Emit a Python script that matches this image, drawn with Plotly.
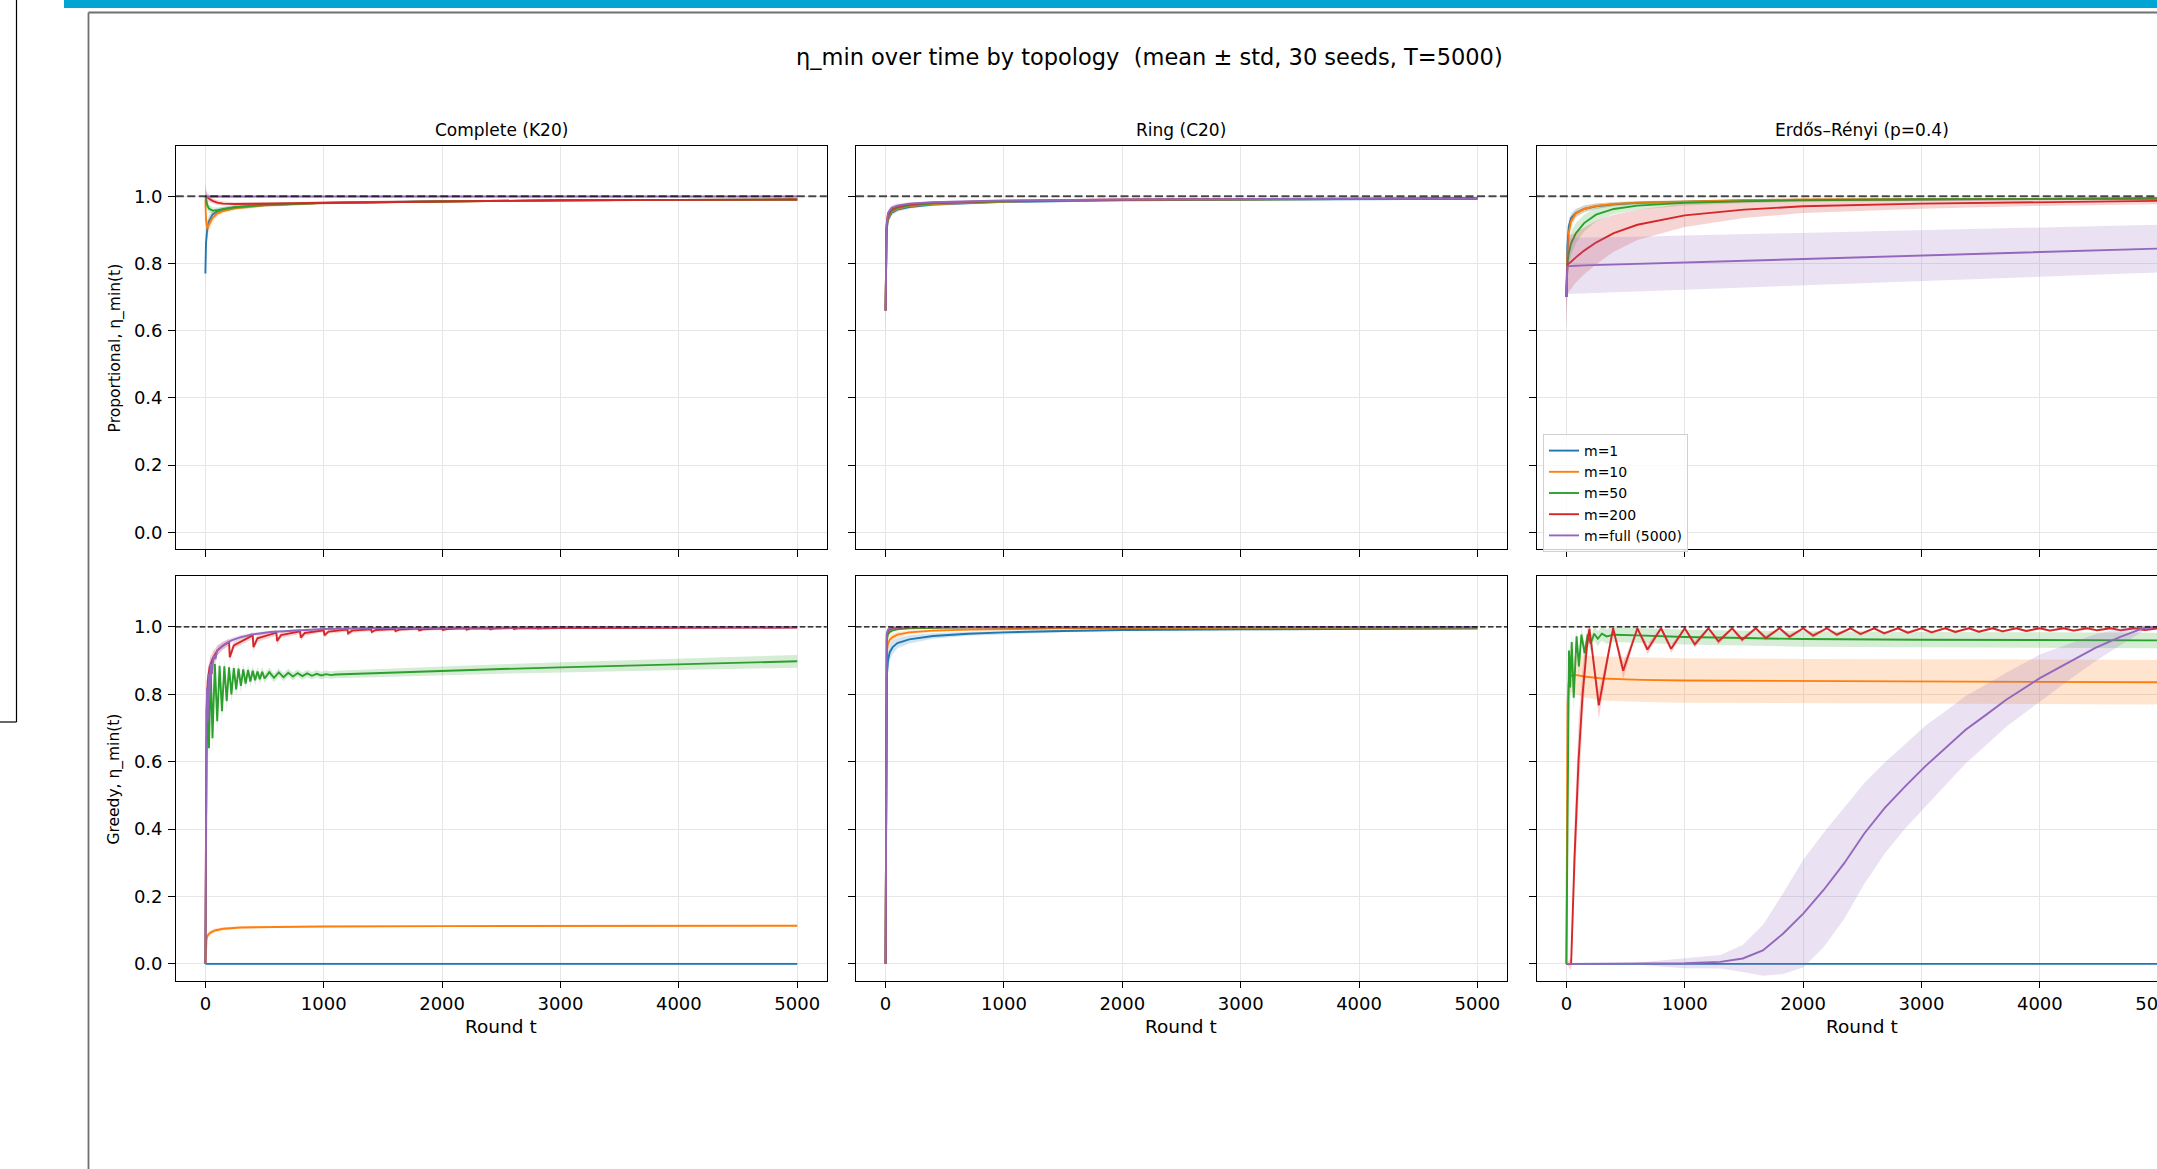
import plotly.graph_objects as go

# ---------------- labels / categories ----------------
m_labels = ["m=1", "m=10", "m=50", "m=200", "m=full (5000)"]
colors = ["#1f77b4", "#ff7f0e", "#2ca02c", "#d62728", "#9467bd"]
fills = ["rgba(31,119,180,0.2)", "rgba(255,127,14,0.2)", "rgba(44,160,44,0.2)",
         "rgba(214,39,40,0.2)", "rgba(148,103,189,0.2)"]
topologies = ["Complete (K20)", "Ring (C20)", "Erdős–Rényi (p=0.4)"]
rules = ["Proportional, η_min(t)", "Greedy, η_min(t)"]
x_ticks = [0, 1000, 2000, 3000, 4000, 5000]
y_ticks = [0.0, 0.2, 0.4, 0.6, 0.8, 1.0]
y_ticklabels = ["0.0", "0.2", "0.4", "0.6", "0.8", "1.0"]
title_text = "η_min over time by topology  (mean ± std, 30 seeds, T=5000)"

# ---------------- Proportional / Complete ----------------
t_cp = [0, 5, 15, 30, 60, 100, 150, 250, 500, 1000, 2000, 3000, 4000, 5000]
cp_m1_mean = [0.77, 0.86, 0.90, 0.925, 0.945, 0.955, 0.961, 0.967, 0.974, 0.980, 0.985, 0.988, 0.989, 0.990]
cp_m1_std = [0.05, 0.035, 0.025, 0.018, 0.012, 0.009, 0.007, 0.006, 0.005, 0.004, 0.003, 0.002, 0.002, 0.002]
cp_m10_mean = [0.99, 0.93, 0.905, 0.915, 0.935, 0.948, 0.956, 0.964, 0.973, 0.980, 0.985, 0.988, 0.989, 0.990]
cp_m10_std = [0.03, 0.03, 0.025, 0.018, 0.012, 0.009, 0.007, 0.006, 0.005, 0.004, 0.003, 0.002, 0.002, 0.002]
cp_m50_mean = [1.0, 0.99, 0.975, 0.963, 0.957, 0.958, 0.962, 0.967, 0.974, 0.980, 0.985, 0.988, 0.989, 0.990]
cp_m50_std = [0.03, 0.02, 0.015, 0.012, 0.010, 0.008, 0.007, 0.006, 0.005, 0.004, 0.003, 0.002, 0.002, 0.002]
cp_m200_mean = [1.0, 0.999, 0.996, 0.992, 0.986, 0.981, 0.978, 0.977, 0.978, 0.982, 0.986, 0.988, 0.989, 0.990]
cp_m200_std = [0.04, 0.02, 0.012, 0.010, 0.008, 0.007, 0.006, 0.005, 0.004, 0.003, 0.003, 0.002, 0.002, 0.002]
cp_mfull_mean = [1.0, 0.999, 0.999, 0.999, 0.999, 0.999, 0.999, 0.999, 0.999, 0.999, 0.999, 0.999, 0.999, 0.999]
cp_mfull_std = [0.045, 0.02, 0.01, 0.006, 0.004, 0.003, 0.002, 0.002, 0.001, 0.001, 0.001, 0.001, 0.001, 0.001]

# ---------------- Proportional / Ring ----------------
t_rp = [0, 3, 8, 20, 50, 100, 200, 400, 1000, 2000, 3000, 4000, 5000]
rp_m1_mean = [0.66, 0.82, 0.895, 0.93, 0.95, 0.96, 0.968, 0.975, 0.983, 0.988, 0.990, 0.991, 0.992]
rp_m10_mean = [0.66, 0.825, 0.90, 0.935, 0.954, 0.963, 0.971, 0.977, 0.984, 0.989, 0.991, 0.992, 0.993]
rp_m50_mean = [0.66, 0.83, 0.905, 0.94, 0.958, 0.966, 0.973, 0.979, 0.985, 0.989, 0.991, 0.992, 0.993]
rp_m200_mean = [0.66, 0.835, 0.91, 0.945, 0.962, 0.969, 0.976, 0.981, 0.986, 0.990, 0.992, 0.993, 0.994]
rp_mfull_mean = [0.66, 0.84, 0.915, 0.95, 0.965, 0.972, 0.978, 0.982, 0.987, 0.990, 0.992, 0.993, 0.994]
rp_m1_std = [0.08, 0.04, 0.02, 0.012, 0.008, 0.006, 0.005, 0.004, 0.003, 0.002, 0.002, 0.002, 0.002]
rp_m10_std = [0.08, 0.04, 0.02, 0.012, 0.008, 0.006, 0.005, 0.004, 0.003, 0.002, 0.002, 0.002, 0.002]
rp_m50_std = [0.08, 0.04, 0.02, 0.011, 0.008, 0.006, 0.005, 0.004, 0.003, 0.002, 0.002, 0.002, 0.002]
rp_m200_std = [0.08, 0.04, 0.02, 0.011, 0.008, 0.006, 0.004, 0.004, 0.003, 0.002, 0.002, 0.002, 0.002]
rp_mfull_std = [0.08, 0.04, 0.02, 0.010, 0.007, 0.006, 0.004, 0.003, 0.003, 0.002, 0.002, 0.002, 0.002]

# ---------------- Proportional / Erdos-Renyi ----------------
t_ep = [0, 8, 20, 40, 80, 150, 250, 400, 600, 1000, 1500, 2000, 3000, 4000, 5000]
ep_m1_mean = [0.70, 0.85, 0.91, 0.935, 0.95, 0.962, 0.970, 0.976, 0.980, 0.984, 0.987, 0.989, 0.991, 0.992, 0.993]
ep_m1_std = [0.03, 0.03, 0.02, 0.015, 0.012, 0.010, 0.008, 0.006, 0.005, 0.004, 0.003, 0.003, 0.002, 0.002, 0.002]
ep_m10_mean = [0.70, 0.82, 0.89, 0.925, 0.948, 0.962, 0.971, 0.977, 0.981, 0.985, 0.988, 0.990, 0.991, 0.992, 0.993]
ep_m10_std = [0.03, 0.035, 0.025, 0.018, 0.013, 0.010, 0.008, 0.006, 0.005, 0.004, 0.003, 0.003, 0.002, 0.002, 0.002]
ep_m50_mean = [0.70, 0.80, 0.83, 0.86, 0.89, 0.92, 0.945, 0.962, 0.972, 0.980, 0.985, 0.988, 0.991, 0.992, 0.993]
ep_m50_std = [0.05, 0.05, 0.04, 0.035, 0.030, 0.025, 0.020, 0.015, 0.012, 0.008, 0.006, 0.005, 0.004, 0.003, 0.003]
ep_m200_mean = [0.70, 0.795, 0.80, 0.805, 0.818, 0.838, 0.862, 0.89, 0.915, 0.943, 0.960, 0.970, 0.978, 0.983, 0.986]
ep_m200_std = [0.10, 0.09, 0.085, 0.08, 0.075, 0.07, 0.065, 0.055, 0.045, 0.035, 0.025, 0.02, 0.015, 0.012, 0.01]
ep_mfull_mean = [0.70, 0.792, 0.792, 0.793, 0.793, 0.794, 0.795, 0.796, 0.798, 0.803, 0.808, 0.813, 0.823, 0.833, 0.844]
ep_mfull_std = [0.10, 0.083, 0.083, 0.083, 0.083, 0.083, 0.082, 0.082, 0.081, 0.080, 0.079, 0.078, 0.076, 0.073, 0.071]

# ---------------- Greedy / Complete ----------------
t_cg_m1 = [0, 5000]
cg_m1_mean = [0.0, 0.0]
cg_m1_std = [0.003, 0.003]
t_cg_m10 = [0, 5, 10, 20, 40, 80, 150, 300, 600, 1000, 2000, 3000, 4000, 5000]
cg_m10_mean = [0.0, 0.06, 0.075, 0.085, 0.092, 0.099, 0.104, 0.108, 0.110, 0.111, 0.112, 0.112, 0.113, 0.113]
cg_m10_std = [0.0, 0.012, 0.01, 0.008, 0.007, 0.006, 0.005, 0.004, 0.003, 0.003, 0.002, 0.002, 0.002, 0.002]
t_cg_m50 = [0, 10, 20, 30, 45, 60, 80, 100,
            120, 140, 160, 180, 200, 220, 240, 260, 280, 300, 320, 340, 360, 380, 400, 420, 440, 460, 480, 500,
            540, 580, 620, 660, 700, 740, 780, 820, 860, 900, 940, 980, 1020, 1060, 1100,
            1500, 2000, 2500, 3000, 3500, 4000, 4500, 5000]
cg_m50_mean = [0.0, 0.62, 0.82, 0.64, 0.88, 0.67, 0.89, 0.72,
               0.885, 0.75, 0.883, 0.78, 0.88, 0.80, 0.878, 0.815, 0.876, 0.825, 0.874, 0.832, 0.872, 0.838,
               0.870, 0.842, 0.868, 0.845, 0.867, 0.847,
               0.866, 0.849, 0.865, 0.851, 0.864, 0.853, 0.863, 0.854, 0.862, 0.855, 0.861, 0.856, 0.860, 0.857, 0.859,
               0.864, 0.870, 0.875, 0.880, 0.885, 0.890, 0.894, 0.898]
cg_m50_std = [0.0, 0.06, 0.05, 0.05, 0.03, 0.04, 0.03, 0.035,
              0.02, 0.03, 0.02, 0.028, 0.02, 0.025, 0.018, 0.022, 0.017, 0.02, 0.016, 0.018, 0.015, 0.017,
              0.015, 0.016, 0.014, 0.015, 0.014, 0.014,
              0.013, 0.013, 0.012, 0.012, 0.012, 0.012, 0.011, 0.011, 0.011, 0.011, 0.011, 0.011, 0.011, 0.011, 0.011,
              0.012, 0.013, 0.014, 0.015, 0.016, 0.017, 0.018, 0.019]
t_cg_m200 = [0, 5, 10, 20, 35, 60, 100, 150,
             200, 206, 240, 400, 406, 440, 600, 606, 640, 800, 806, 840, 1000, 1006, 1040,
             1200, 1206, 1240, 1400, 1406, 1440, 1600, 1606, 1640, 1800, 1806, 1840,
             2000, 2006, 2040, 2200, 2206, 2240, 2400, 2406, 2440, 2600, 2606, 2640, 2800, 2806, 2840,
             3000, 3500, 4000, 4500, 5000]
cg_m200_mean = [0.0, 0.55, 0.75, 0.84, 0.88, 0.905, 0.93, 0.945,
                0.955, 0.91, 0.945, 0.975, 0.94, 0.966, 0.983, 0.958, 0.976, 0.987, 0.968, 0.982,
                0.990, 0.975, 0.986, 0.992, 0.981, 0.989, 0.993, 0.985, 0.991, 0.994, 0.988, 0.992,
                0.995, 0.990, 0.993, 0.995, 0.991, 0.994, 0.996, 0.992, 0.995, 0.996, 0.993, 0.995,
                0.997, 0.994, 0.996, 0.997, 0.995, 0.996,
                0.997, 0.997, 0.998, 0.998, 0.998]
cg_m200_std = [0.0, 0.06, 0.05, 0.03, 0.025, 0.02, 0.015, 0.012,
               0.010, 0.015, 0.010, 0.010, 0.014, 0.010, 0.009, 0.012, 0.009, 0.008, 0.010, 0.008,
               0.006, 0.008, 0.006, 0.006, 0.008, 0.006, 0.006, 0.007, 0.006, 0.005, 0.007, 0.005,
               0.005, 0.006, 0.005, 0.004, 0.005, 0.004, 0.004, 0.005, 0.004, 0.004, 0.005, 0.004,
               0.004, 0.005, 0.004, 0.004, 0.005, 0.004,
               0.003, 0.003, 0.003, 0.003, 0.003]
t_cg_mfull = [0, 5, 10, 15, 20, 28, 35, 45, 55, 70, 85, 100, 130, 170, 220, 300, 400, 550, 750,
              1000, 1500, 2000, 3000, 5000]
cg_mfull_mean = [0.0, 0.60, 0.75, 0.82, 0.72, 0.86, 0.80, 0.89, 0.86, 0.915, 0.905, 0.93, 0.94, 0.95, 0.96,
                 0.97, 0.978, 0.985, 0.99, 0.994, 0.997, 0.998, 0.999, 0.999]
cg_mfull_std = [0.0, 0.08, 0.06, 0.05, 0.05, 0.04, 0.04, 0.03, 0.03, 0.02, 0.02, 0.015, 0.012, 0.01, 0.008,
                0.006, 0.005, 0.004, 0.003, 0.002, 0.002, 0.001, 0.001, 0.001]

# ---------------- Greedy / Ring ----------------
t_rg = [0, 3, 6, 10, 20, 35, 60, 100, 200, 400, 700, 1000, 1500, 2000, 3000, 4000, 5000]
rg_m1_mean = [0.0, 0.60, 0.78, 0.85, 0.90, 0.925, 0.94, 0.952, 0.963, 0.973, 0.980, 0.984, 0.988, 0.991, 0.993, 0.994, 0.995]
rg_m1_std = [0.0, 0.08, 0.05, 0.04, 0.03, 0.025, 0.02, 0.015, 0.012, 0.008, 0.006, 0.005, 0.004, 0.003, 0.003, 0.002, 0.002]
rg_m10_mean = [0.0, 0.70, 0.88, 0.925, 0.95, 0.962, 0.970, 0.977, 0.984, 0.989, 0.992, 0.994, 0.996, 0.997, 0.998, 0.998, 0.998]
rg_m10_std = [0.0, 0.06, 0.03, 0.02, 0.015, 0.012, 0.010, 0.008, 0.006, 0.004, 0.003, 0.002, 0.002, 0.002, 0.001, 0.001, 0.001]
rg_m50_mean = [0.0, 0.75, 0.92, 0.96, 0.978, 0.985, 0.990, 0.993, 0.996, 0.998, 0.999, 0.999, 0.999, 0.999, 0.999, 0.999, 0.999]
rg_m50_std = [0.0, 0.05, 0.02, 0.012, 0.008, 0.006, 0.004, 0.003, 0.002, 0.001, 0.001, 0.001, 0.001, 0.001, 0.001, 0.001, 0.001]
rg_m200_mean = [0.0, 0.78, 0.94, 0.975, 0.988, 0.993, 0.996, 0.998, 0.999, 0.999, 1.0, 1.0, 1.0, 1.0, 1.0, 1.0, 1.0]
rg_m200_std = [0.0, 0.04, 0.015, 0.008, 0.005, 0.004, 0.003, 0.002, 0.001, 0.001, 0.001, 0.001, 0.001, 0.001, 0.001, 0.001, 0.001]
rg_mfull_mean = [0.0, 0.80, 0.95, 0.98, 0.992, 0.996, 0.998, 0.999, 1.0, 1.0, 1.0, 1.0, 1.0, 1.0, 1.0, 1.0, 1.0]
rg_mfull_std = [0.0, 0.04, 0.015, 0.008, 0.005, 0.004, 0.003, 0.002, 0.001, 0.001, 0.001, 0.001, 0.001, 0.001, 0.001, 0.001, 0.001]

# ---------------- Greedy / Erdos-Renyi ----------------
t_eg_m1 = [0, 5000]
eg_m1_mean = [0.0, 0.0]
eg_m1_std = [0.002, 0.002]
t_eg_m10 = [0, 5, 10, 18, 25, 40, 60, 86, 150, 300, 634, 1000, 2000, 3000, 4000, 5000]
eg_m10_mean = [0.0, 0.45, 0.77, 0.83, 0.85, 0.855, 0.857, 0.857, 0.853, 0.847, 0.843, 0.841, 0.839, 0.838, 0.837, 0.836]
eg_m10_std = [0.0, 0.10, 0.08, 0.06, 0.05, 0.05, 0.055, 0.058, 0.062, 0.065, 0.066, 0.066, 0.066, 0.066, 0.066, 0.066]
t_eg_m50 = [0, 10, 22, 32, 45, 62, 86, 106, 127, 154, 180, 205, 235, 265, 300, 340, 400, 600, 1000, 1500,
            2000, 3000, 4000, 5000]
eg_m50_mean = [0.0, 0.45, 0.93, 0.82, 0.955, 0.79, 0.972, 0.883, 0.977, 0.922, 0.978, 0.95, 0.98, 0.965, 0.98,
               0.972, 0.977, 0.975, 0.970, 0.967, 0.964, 0.962, 0.961, 0.960]
eg_m50_std = [0.0, 0.1, 0.04, 0.05, 0.025, 0.04, 0.02, 0.03, 0.02, 0.025, 0.02, 0.022, 0.02, 0.022, 0.02,
              0.022, 0.022, 0.022, 0.022, 0.022, 0.023, 0.023, 0.023, 0.023]
t_eg_m200 = [0, 40, 68, 103, 137, 171, 195,
             274, 395, 480, 600, 685, 800, 885, 1000, 1085, 1200, 1285, 1400, 1485, 1600, 1685, 1800,
             1885, 2000, 2085, 2200, 2285, 2400, 2485, 2600, 2685, 2800, 2885, 3000, 3085, 3200, 3285, 3400,
             3485, 3600, 3685, 3800, 3885, 4000, 4085, 4200, 4285, 4400, 4485, 4600, 4685, 4800, 4885, 5000]
eg_m200_mean = [0.0, 0.0, 0.31, 0.605, 0.80, 0.933, 0.995,
                0.767, 0.996, 0.870, 0.996, 0.933, 0.996, 0.935, 0.996, 0.948, 0.996, 0.957, 0.996, 0.962, 0.996,
                0.967, 0.996, 0.971, 0.996, 0.974, 0.996, 0.977, 0.996, 0.979, 0.996, 0.981, 0.996, 0.983, 0.996,
                0.984, 0.996, 0.985, 0.996, 0.986, 0.996, 0.987, 0.996, 0.988, 0.996, 0.989, 0.996, 0.989, 0.996,
                0.990, 0.996, 0.990, 0.996, 0.991, 0.996]
eg_m200_std = [0.0, 0.02, 0.10, 0.12, 0.08, 0.04, 0.01,
               0.04, 0.005, 0.025, 0.005, 0.015, 0.005, 0.012, 0.004, 0.010, 0.004, 0.009, 0.004, 0.008, 0.004,
               0.008, 0.004, 0.007, 0.004, 0.007, 0.004, 0.006, 0.003, 0.006, 0.003, 0.005, 0.003, 0.005, 0.003,
               0.005, 0.003, 0.004, 0.003, 0.004, 0.003, 0.004, 0.003, 0.004, 0.003, 0.004, 0.003, 0.004, 0.003,
               0.003, 0.003, 0.003, 0.003, 0.003, 0.003]
t_eg_mfull = [0, 500, 1000, 1300, 1490, 1660, 1832, 2003, 2175, 2346, 2517, 2688, 2860, 3031, 3202, 3373,
              3545, 3716, 4000, 4229, 4469, 4675, 4880, 5000]
eg_mfull_mean = [0.0, 0.0, 0.002, 0.006, 0.016, 0.04, 0.09, 0.15, 0.22, 0.298, 0.387, 0.462, 0.526, 0.586,
                 0.64, 0.695, 0.739, 0.784, 0.848, 0.893, 0.938, 0.97, 0.997, 1.0]
eg_mfull_std = [0.0, 0.0, 0.015, 0.02, 0.04, 0.075, 0.12, 0.16, 0.17, 0.165, 0.15, 0.135, 0.125, 0.12, 0.11,
                0.1, 0.09, 0.08, 0.07, 0.055, 0.04, 0.025, 0.008, 0.003]

# panel -> list of (t, mean, std) in m order
panels = {
    (0, 0): [(t_cp, cp_m1_mean, cp_m1_std), (t_cp, cp_m10_mean, cp_m10_std), (t_cp, cp_m50_mean, cp_m50_std),
             (t_cp, cp_m200_mean, cp_m200_std), (t_cp, cp_mfull_mean, cp_mfull_std)],
    (0, 1): [(t_rp, rp_m1_mean, rp_m1_std), (t_rp, rp_m10_mean, rp_m10_std), (t_rp, rp_m50_mean, rp_m50_std),
             (t_rp, rp_m200_mean, rp_m200_std), (t_rp, rp_mfull_mean, rp_mfull_std)],
    (0, 2): [(t_ep, ep_m1_mean, ep_m1_std), (t_ep, ep_m10_mean, ep_m10_std), (t_ep, ep_m50_mean, ep_m50_std),
             (t_ep, ep_m200_mean, ep_m200_std), (t_ep, ep_mfull_mean, ep_mfull_std)],
    (1, 0): [(t_cg_m1, cg_m1_mean, cg_m1_std), (t_cg_m10, cg_m10_mean, cg_m10_std),
             (t_cg_m50, cg_m50_mean, cg_m50_std), (t_cg_m200, cg_m200_mean, cg_m200_std),
             (t_cg_mfull, cg_mfull_mean, cg_mfull_std)],
    (1, 1): [(t_rg, rg_m1_mean, rg_m1_std), (t_rg, rg_m10_mean, rg_m10_std), (t_rg, rg_m50_mean, rg_m50_std),
             (t_rg, rg_m200_mean, rg_m200_std), (t_rg, rg_mfull_mean, rg_mfull_std)],
    (1, 2): [(t_eg_m1, eg_m1_mean, eg_m1_std), (t_eg_m10, eg_m10_mean, eg_m10_std),
             (t_eg_m50, eg_m50_mean, eg_m50_std), (t_eg_m200, eg_m200_mean, eg_m200_std),
             (t_eg_mfull, eg_mfull_mean, eg_mfull_std)],
}

# ---------------- geometry (pixels) ----------------
W, H = 2200, 1169
FONT = "DejaVu Sans"
col_left = [175.8, 856.0, 1536.8]
col_w = 651.0
row_top = [145.8, 576.4]
row_bot = [549.0, 980.7]


def px(x):
    return x / W


def py(y):
    return 1 - y / H


fig = go.Figure()
layout = dict(
    width=W, height=H, margin=dict(l=0, r=0, t=0, b=0),
    paper_bgcolor="white", plot_bgcolor="white",
    font=dict(family=FONT, color="black"),
    showlegend=True,
    legend=dict(x=px(1543), y=py(434), xanchor="left", yanchor="top",
                bgcolor="rgba(255,255,255,0.8)", bordercolor="#d0d0d0", borderwidth=1,
                font=dict(family=FONT, size=14, color="black"), tracegroupgap=0,
                itemwidth=30),
)

shapes = []
annotations = []

for r in range(2):
    for c in range(3):
        i = r * 3 + c + 1
        sx = "" if i == 1 else str(i)
        xa, ya = "x" + sx, "y" + sx
        layout["xaxis" + sx] = dict(
            domain=[px(col_left[c]), px(col_left[c] + col_w)], anchor=ya,
            range=[-250, 5250], tickvals=x_ticks, ticks="outside", ticklen=6.5, tickwidth=1.3,
            tickcolor="black", showline=True, linecolor="black", linewidth=1.3, mirror=True,
            showgrid=True, gridcolor="#e6e6e6", gridwidth=1, zeroline=False,
            showticklabels=(r == 1), tickfont=dict(family=FONT, size=18, color="black"),
        )
        layout["yaxis" + sx] = dict(
            domain=[py(row_bot[r]), py(row_top[r])], anchor=xa,
            range=[-0.05, 1.15], tickvals=y_ticks, ticktext=y_ticklabels, ticks="outside",
            ticklen=6.5, tickwidth=1.3, tickcolor="black", showline=True, linecolor="black",
            linewidth=1.3, mirror=True, showgrid=True, gridcolor="#e6e6e6", gridwidth=1,
            zeroline=False, showticklabels=(c == 0),
            tickfont=dict(family=FONT, size=18, color="black"), ticklabelstandoff=2,
        )
        for k, (t, mean, std) in enumerate(panels[(r, c)]):
            upper = [m + s for m, s in zip(mean, std)]
            lower = [m - s for m, s in zip(mean, std)]
            fig.add_trace(go.Scatter(
                x=list(t) + list(t)[::-1], y=upper + lower[::-1], fill="toself",
                fillcolor=fills[k], line=dict(width=0), mode="lines", hoverinfo="skip",
                showlegend=False, xaxis=xa, yaxis=ya))
            fig.add_trace(go.Scatter(
                x=t, y=mean, mode="lines", line=dict(color=colors[k], width=1.9),
                name=m_labels[k], legendgroup=m_labels[k],
                showlegend=(r == 0 and c == 2), xaxis=xa, yaxis=ya))
        # reference line at 1.0
        shapes.append(dict(
            type="line", xref=xa + " domain", yref=ya, x0=0, x1=1, y0=1.0, y1=1.0, layer="above",
            line=dict(color="rgba(0,0,0,0.7)" if r == 0 else "black",
                      width=2.0 if r == 0 else 1.2,
                      dash="8px,3.5px" if r == 0 else "5.5px,2.5px")))

# subplot titles
for c in range(3):
    annotations.append(dict(text=topologies[c], x=px(col_left[c] + col_w / 2), y=py(130),
                            xref="paper", yref="paper", showarrow=False, xanchor="center",
                            yanchor="middle", font=dict(family=FONT, size=17, color="black")))
    annotations.append(dict(text="Round t", x=px(col_left[c] + col_w / 2), y=py(1026.5),
                            xref="paper", yref="paper", showarrow=False, xanchor="center",
                            yanchor="middle", font=dict(family=FONT, size=18.5, color="black")))
for r in range(2):
    annotations.append(dict(text=rules[r], x=px(115), y=py((row_top[r] + row_bot[r]) / 2),
                            xref="paper", yref="paper", showarrow=False, textangle=-90,
                            xanchor="center", yanchor="middle",
                            font=dict(family=FONT, size=15.5, color="black")))
annotations.append(dict(text=title_text, x=px(1149), y=py(57), xref="paper", yref="paper",
                        showarrow=False, xanchor="center", yanchor="middle",
                        font=dict(family=FONT, size=22.5, color="black")))

# page decorations around the embedded figure
shapes.append(dict(type="rect", xref="paper", yref="paper", x0=px(64), x1=1.0, y0=py(8), y1=1.0,
                   fillcolor="#00a5d4", line=dict(width=0), layer="above"))
shapes.append(dict(type="line", xref="paper", yref="paper", x0=px(16.5), x1=px(16.5), y0=1.0, y1=py(722),
                   line=dict(color="black", width=1.2), layer="above"))
shapes.append(dict(type="line", xref="paper", yref="paper", x0=0, x1=px(16.5), y0=py(722), y1=py(722),
                   line=dict(color="black", width=1.2), layer="above"))
shapes.append(dict(type="line", xref="paper", yref="paper", x0=px(88.5), x1=px(88.5), y0=py(12.5), y1=0,
                   line=dict(color="#707070", width=1.8), layer="above"))
shapes.append(dict(type="line", xref="paper", yref="paper", x0=px(88.5), x1=1.0, y0=py(12.5), y1=py(12.5),
                   line=dict(color="#707070", width=1.8), layer="above"))

layout["shapes"] = shapes
layout["annotations"] = annotations
fig.update_layout(**layout)

fig.write_html("out.html", config={"displayModeBar": False},
               post_script="document.body.style.margin='0px';"
               "document.body.style.overflow='hidden';"
               "document.documentElement.style.overflow='hidden';")
